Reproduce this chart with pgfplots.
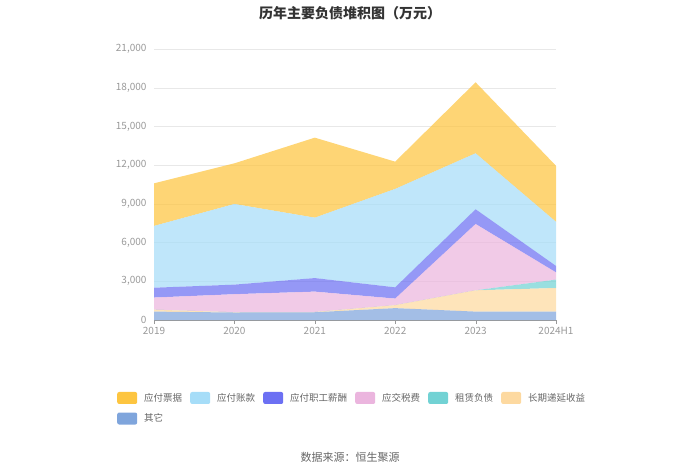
\documentclass[border=0pt]{standalone}
\usepackage{pgfplots}
\pgfplotsset{compat=1.18}
\usepackage{fontspec}
\setmainfont{Noto Sans CJK SC}

\definecolor{cPiao}{HTML}{FDC540}
\definecolor{cZhang}{HTML}{A6DDF8}
\definecolor{cZhigong}{HTML}{6C70F3}
\definecolor{cShui}{HTML}{EBB5DE}
\definecolor{cZulin}{HTML}{72D2D4}
\definecolor{cDiyan}{HTML}{FDD9A0}
\definecolor{cQita}{HTML}{7FA5DC}
\definecolor{tickgray}{HTML}{999999}
\definecolor{gridgray}{HTML}{E8E8E8}

\pgfplotsset{
  layer/.style={draw=none, fill=#1, fill opacity=0.72,
    legend image code/.code={
      \fill[#1, fill opacity=1, rounded corners=2pt] (0pt,-6pt) rectangle (20pt,6pt);}},
}

\begin{document}
\begin{tikzpicture}[x=1pt,y=1pt]
\path[use as bounding box] (0,0) rectangle (700,474);
\node[font=\fontsize{14}{16}\selectfont\bfseries, text=black!80] at (350,461) {历年主要负债堆积图（万元）};
\node[font=\fontsize{11}{13}\selectfont, text=black!60] at (350,17) {数据来源：恒生聚源};
\begin{axis}[
    at={(154pt,154pt)}, anchor=origin,
    scale only axis, width=402pt, height=271pt,
    xmin=0, xmax=5, ymin=0, ymax=21000,
    xtick={0,1,2,3,4,5},
    xticklabels={2019,2020,2021,2022,2023,2024H1},
    ytick={0,3000,6000,9000,12000,15000,18000,21000},
    scaled y ticks=false,
    yticklabel style={/pgf/number format/.cd, fixed, 1000 sep={,}},
    /pgf/number format/assume math mode=true,
    ticklabel style={font=\fontsize{10}{12}\selectfont, text=tickgray},
    axis x line*=bottom, axis y line*=left,
    x axis line style={draw=tickgray},
    y axis line style={draw=none},
    ytick style={draw=none},
    xtick style={draw=tickgray},
    tick align=outside, major tick length=4pt,
    ymajorgrids, grid style={gridgray},
    stack plots=y,
    reverse legend,
    legend columns=6,
    legend cell align=left,
    legend style={at={(axis description cs:-0.092,-0.262)}, anchor=north west,
      draw=none, fill=none, inner sep=0pt,
      font=\fontsize{9.5}{12}\selectfont, text=black!60,
      row sep=7pt,
      /tikz/every odd column/.append style={column sep=5pt},
      /tikz/every even column/.append style={column sep=6pt}},
]
\addplot[layer=cQita] coordinates {(0,650) (1,580) (2,600) (3,920) (4,650) (5,650)} \closedcycle;
\addlegendentry{其它}
\addplot[layer=cDiyan] coordinates {(0,150) (1,20) (2,20) (3,230) (4,1650) (5,1830)} \closedcycle;
\addlegendentry{长期递延收益}
\addplot[layer=cZulin] coordinates {(0,0) (1,0) (2,0) (3,0) (4,0) (5,650)} \closedcycle;
\addlegendentry{租赁负债}
\addplot[layer=cShui] coordinates {(0,940) (1,1400) (2,1580) (3,510) (4,5140) (5,560)} \closedcycle;
\addlegendentry{应交税费}
\addplot[layer=cZhigong] coordinates {(0,760) (1,740) (2,1050) (3,870) (4,1140) (5,500)} \closedcycle;
\addlegendentry{应付职工薪酬}
\addplot[layer=cZhang] coordinates {(0,4790) (1,6250) (2,4680) (3,7630) (4,4340) (5,3420)} \closedcycle;
\addlegendentry{应付账款}
\addplot[layer=cPiao] coordinates {(0,3300) (1,3150) (2,6200) (3,2110) (4,5500) (5,4340)} \closedcycle;
\addlegendentry{应付票据}
\end{axis}
\end{tikzpicture}
\end{document}
